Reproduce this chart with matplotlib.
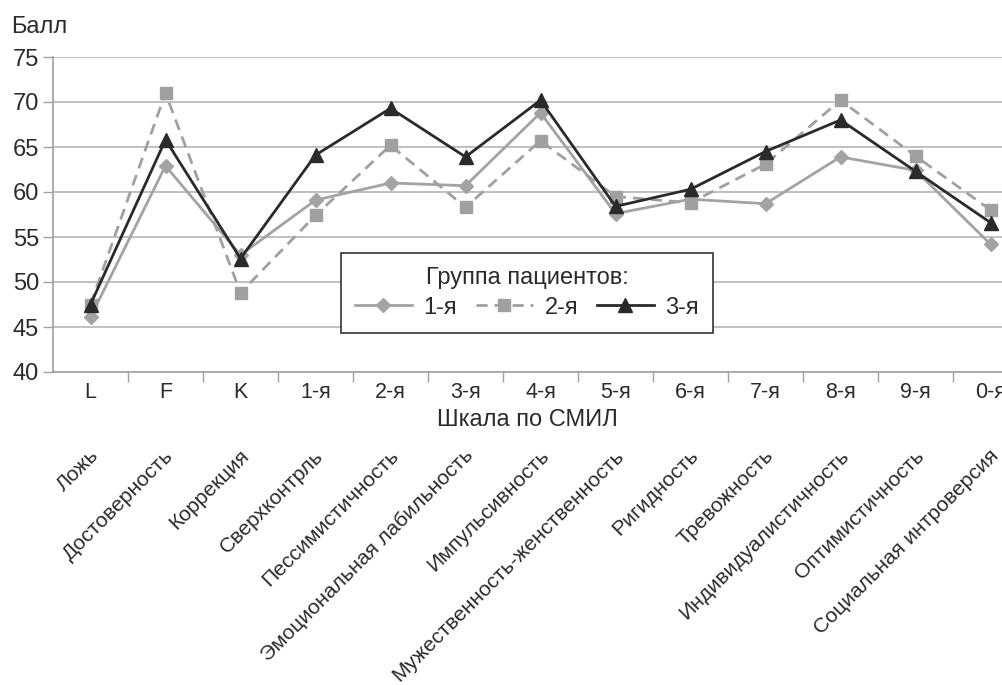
import matplotlib.pyplot as plt
from matplotlib.transforms import blended_transform_factory

plt.rcParams['font.family'] = ['Liberation Sans', 'DejaVu Sans']

codes = ['L', 'F', 'K', '1-я', '2-я', '3-я', '4-я', '5-я', '6-я', '7-я', '8-я', '9-я', '0-я']
names = ['Ложь', 'Достоверность', 'Коррекция', 'Сверхконтрль', 'Пессимистичность',
         'Эмоциональная лабильность', 'Импульсивность', 'Мужественность-женственность',
         'Ригидность', 'Тревожность', 'Индивидуалистичность', 'Оптимистичность',
         'Социальная интроверсия']
group1 = [46.1, 62.9, 53.0, 59.1, 61.0, 60.7, 68.8, 57.6, 59.2, 58.7, 63.9, 62.4, 54.2]
group2 = [47.5, 71.0, 48.8, 57.4, 65.2, 58.3, 65.7, 59.5, 58.8, 63.1, 70.2, 64.0, 58.0]
group3 = [47.5, 65.8, 52.6, 64.1, 69.3, 63.9, 70.2, 58.4, 60.3, 64.5, 68.0, 62.3, 56.6]

txt = '#2b2b2b'
fig = plt.figure(figsize=(10.03, 6.85), dpi=100)
ax = fig.add_axes([53 / 1003, 1 - 372 / 685, 975 / 1003, 315 / 685])

x = range(len(codes))
ax.plot(x, group1, color='#a3a3a3', lw=2.0, marker='D', ms=7, label='1-я')
ax.plot(x, group2, color='#a0a0a0', lw=2.0, ls=(0, (4, 2.5)), marker='s', ms=9, label='2-я')
ax.plot(x, group3, color='#2a2a2a', lw=2.0, marker='^', ms=10, label='3-я')

ax.set_xlim(-0.5, len(codes) - 0.5)
ax.set_ylim(40, 75)
ax.set_yticks(range(40, 76, 5))
ax.grid(axis='y', color='#b5b5b5', lw=1.2)
ax.set_axisbelow(True)
for s in ['top', 'right']:
    ax.spines[s].set_visible(False)
for s in ['left', 'bottom']:
    ax.spines[s].set_color('#a0a0a0')
    ax.spines[s].set_linewidth(1.2)

# деления между категориями
ax.set_xticks([i - 0.5 for i in range(1, len(codes))])
ax.set_xticklabels([])
ax.tick_params(axis='x', length=7, color='#a0a0a0', width=1)
ax.tick_params(axis='y', length=7, color='#a0a0a0', width=1, labelsize=17, labelcolor=txt, pad=3)

trans = blended_transform_factory(ax.transData, ax.transAxes)
for i, c in enumerate(codes):
    ax.text(i, -0.065, c, transform=trans, ha='center', va='center', fontsize=15.5, color=txt)

fig.text(527 / 1003, 1 - 420 / 685, 'Шкала по СМИЛ', ha='center', va='center', fontsize=17, color=txt)
fig.text(11 / 1003, 1 - 27 / 685, 'Балл', ha='left', va='center', fontsize=17, color=txt)

# расшифровка шкал под осью
for i, n in enumerate(names):
    ax.text(i + 0.16, -0.235, n, transform=trans, ha='right', va='top',
            rotation=45, fontsize=15.2, color=txt)

leg = ax.legend(title='Группа пациентов:', ncol=3, loc='center',
                bbox_to_anchor=(527 / 1003, 1 - 293 / 685), bbox_transform=fig.transFigure,
                fontsize=17, title_fontsize=17, fancybox=False, framealpha=1,
                edgecolor='#333333', handlelength=2.4, columnspacing=0.8, handletextpad=0.5,
                borderpad=0.6, labelspacing=0.3, borderaxespad=0)
leg.get_frame().set_linewidth(1.2)
leg.get_title().set_color(txt)
for t in leg.get_texts():
    t.set_color(txt)

fig.savefig('out.png', dpi=100)
